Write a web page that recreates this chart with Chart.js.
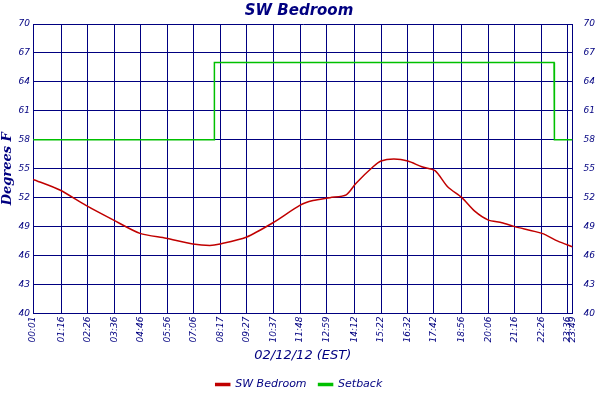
<!DOCTYPE html>
<html>
<head>
<script src="https://cdn.jsdelivr.net/npm/chart.js"></script>
<style>body{margin:0;background:#fff}#wrap{width:600px;height:400px}</style>
</head>
<body>
<div id="wrap"><canvas id="c"></canvas></div>
<script>
const tickMinutes = [1,76,146,216,286,356,426,497,567,637,708,779,852,922,992,1062,1136,1206,1276,1346,1416,1429];
const tickLabels = ["00:01","01:16","02:26","03:36","04:46","05:56","07:06","08:17","09:27","10:37","11:48","12:59","14:12","15:22","16:32","17:42","18:56","20:06","21:16","22:26","23:36","23:49"];
const tempMinutes = [1,72,141,213,284,353,424,469,496,565,636,707,742,787,830,856,901,922,956,993,1030,1065,1099,1136,1170,1205,1242,1276,1348,1390,1429];
const tempValues = [53.9,52.8,51.2,49.7,48.3,47.8,47.2,47.05,47.2,47.9,49.4,51.2,51.7,52.0,52.3,53.5,55.2,55.8,56.0,55.8,55.2,54.8,53.1,52.0,50.6,49.7,49.4,49.0,48.3,47.5,46.9];
const setbackMinutes = [1,480,481,1380,1381,1429];
const setbackValues = [58,58,66,66,58,58];

const navy = "#000080";
const pts = (xs, ys) => xs.map((x, i) => ({ x: x, y: ys[i] }));
const font = { family: "DejaVu Sans", style: "italic", size: 9 };
const yTicks = { min: 40, max: 70, ticks: { stepSize: 3, color: navy, font: font, padding: 3 },
  grid: { color: navy, drawTicks: false }, border: { color: navy } };

new Chart(document.getElementById("c"), {
  type: "line",
  data: { datasets: [
    { label: "SW Bedroom", data: pts(tempMinutes, tempValues), borderColor: "#c00000", backgroundColor: "#c00000", borderWidth: 1.5, pointRadius: 0, tension: 0.25 },
    { label: "Setback", data: pts(setbackMinutes, setbackValues), borderColor: "#00c000", backgroundColor: "#00c000", borderWidth: 1.5, pointRadius: 0 }
  ] },
  options: {
    responsive: true, maintainAspectRatio: false, animation: false,
    layout: { padding: { left: 0, right: 2, top: 0 } },
    plugins: {
      title: { display: true, text: "SW Bedroom", color: navy, font: { family: "DejaVu Sans", style: "italic", weight: "bold", size: 15 }, padding: { top: 2, bottom: 4 } },
      legend: { position: "bottom", labels: { color: navy, font: { family: "DejaVu Sans", style: "italic", size: 11 }, boxWidth: 14, boxHeight: 2, padding: 12 } }
    },
    scales: {
      x: { type: "linear", min: 1, max: 1429,
        afterBuildTicks: s => { s.ticks = tickMinutes.map(v => ({ value: v })); },
        ticks: { autoSkip: false, maxRotation: 90, minRotation: 90, color: navy, font: font,
          callback: (v, i) => tickLabels[i] },
        grid: { color: navy, drawTicks: false }, border: { color: navy },
        title: { display: true, text: "02/12/12 (EST)", color: navy, font: { family: "DejaVu Sans", style: "italic", size: 13 }, padding: { top: 2 } } },
      y: Object.assign({ position: "left",
        title: { display: true, text: "Degrees F", color: navy, padding: 0, font: { family: "DejaVu Serif", style: "italic", weight: "bold", size: 13 } } }, yTicks),
      y2: Object.assign({ position: "right" }, JSON.parse(JSON.stringify(yTicks)), { grid: { display: false } })
    }
  }
});
</script>
</body>
</html>
